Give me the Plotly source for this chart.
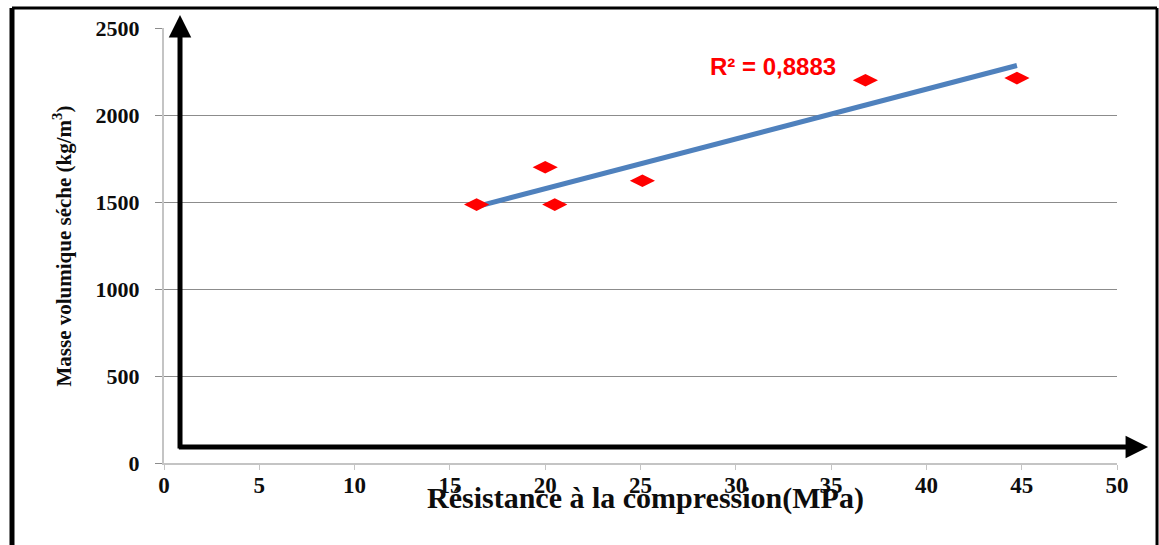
import numpy as np
import plotly.graph_objects as go

# Data
resistance_mpa = [16.4, 20.0, 20.5, 25.1, 36.8, 44.75]
masse_volumique = [1485, 1700, 1485, 1622, 2200, 2212]
x_ticks = [0, 5, 10, 15, 20, 25, 30, 35, 40, 45, 50]
y_ticks = [0, 500, 1000, 1500, 2000, 2500]
r2_label = "R² = 0,8883"
x_title = "Résistance à la compression(MPa)"
y_title = "Masse volumique séche (kg/m<sup>3</sup>)"

# Linear trend line (least squares) through the points
slope, intercept = np.polyfit(resistance_mpa, masse_volumique, 1)
trend_x = [min(resistance_mpa), max(resistance_mpa)]
trend_y = [slope * v + intercept for v in trend_x]

fig = go.Figure()
fig.add_trace(go.Scatter(
    x=trend_x, y=trend_y, mode="lines",
    line=dict(color="#4F81BD", width=5), showlegend=False, hoverinfo="skip"))
fig.add_trace(go.Scatter(
    x=resistance_mpa, y=masse_volumique, mode="markers",
    marker=dict(symbol="diamond-wide", size=18, color="#FF0000", line=dict(width=0)),
    showlegend=False))

serif = "Liberation Serif"
txt_col = "#0d0d0d"

fig.update_layout(
    width=1159, height=545,
    margin=dict(l=164, r=42, t=28, b=82),
    paper_bgcolor="white", plot_bgcolor="white",
    xaxis=dict(
        range=[0, 50], tickvals=x_ticks, showgrid=False, zeroline=False,
        showline=True, linecolor="#c4c4c4", linewidth=2,
        ticks="outside", ticklen=5, tickcolor="#c4c4c4", tickwidth=1,
        tickfont=dict(family=serif, size=23, color=txt_col, weight="bold"),
        ticklabelstandoff=-5,
    ),
    yaxis=dict(
        range=[0, 2500], tickvals=y_ticks, showgrid=True, gridcolor="#8c8c8c",
        gridwidth=1, zeroline=False,
        showline=True, linecolor="#c4c4c4", linewidth=2,
        ticks="outside", ticklen=7, tickcolor="#8c8c8c", tickwidth=1,
        tickfont=dict(family=serif, size=22, color=txt_col, weight="bold"),
        ticklabelstandoff=11,
    ),
)

# Axis titles as annotations (x title overlaps tick labels as in the original)
fig.add_annotation(
    text=x_title, xref="paper", yref="paper", x=0.505, y=-0.080,
    showarrow=False, xanchor="center", yanchor="middle",
    font=dict(family=serif, size=30, color=txt_col, weight="bold"))
fig.add_annotation(
    text=y_title, xref="paper", yref="paper", x=-0.106, y=0.50,
    showarrow=False, xanchor="center", yanchor="middle", textangle=-90,
    font=dict(family=serif, size=21, color=txt_col, weight="bold"))

# R² label
fig.add_annotation(
    text=r2_label, xref="x", yref="y", x=31.95, y=2276,
    showarrow=False, xanchor="center", yanchor="middle",
    font=dict(family="Liberation Sans", size=24, color="#FF0000", weight="bold"))

# Black arrows (decorative axes)
fig.add_annotation(
    x=0.84, y=2575, ax=0.84, ay=75, xref="x", yref="y", axref="x", ayref="y",
    text="", showarrow=True, arrowhead=2, arrowsize=0.9, arrowwidth=5,
    arrowcolor="black", standoff=0, startstandoff=0)
fig.add_annotation(
    x=51.63, y=92, ax=0.70, ay=92, xref="x", yref="y", axref="x", ayref="y",
    text="", showarrow=True, arrowhead=2, arrowsize=0.9, arrowwidth=5,
    arrowcolor="black", standoff=0, startstandoff=0)

# Outer frame
fig.add_shape(type="line", xref="paper", yref="paper",
              x0=-0.1595, x1=-0.1595, y0=-0.25, y1=1.046,
              line=dict(color="black", width=5))
fig.add_shape(type="line", xref="paper", yref="paper",
              x0=-0.1595, x1=1.042, y0=1.046, y1=1.046,
              line=dict(color="black", width=3))
fig.add_shape(type="line", xref="paper", yref="paper",
              x0=1.042, x1=1.042, y0=-0.25, y1=1.046,
              line=dict(color="black", width=3))

fig.write_html("out.html")
